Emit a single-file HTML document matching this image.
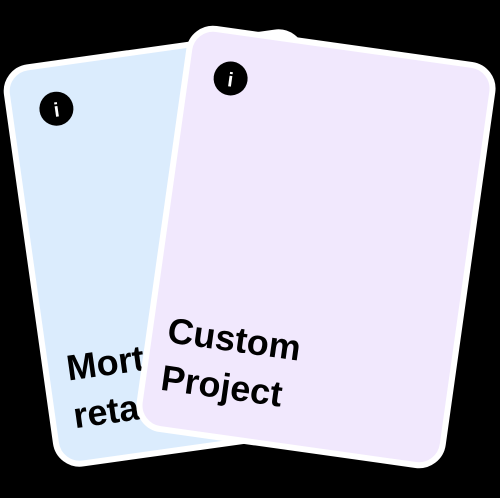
<!DOCTYPE html>
<html><head><meta charset="utf-8"><style>
html,body{margin:0;padding:0;background:#000;width:500px;height:498px;overflow:hidden}
text{font-family:"Liberation Sans",sans-serif;font-weight:bold}
</style></head><body>
<svg width="500" height="498" viewBox="0 0 500 498" xmlns="http://www.w3.org/2000/svg">
  <g transform="translate(179,248) rotate(-8) translate(-152,-203)">
    <rect x="3" y="3" width="298" height="400" rx="24" fill="#dbecfd" stroke="#fff" stroke-width="6"/>
    <circle cx="50" cy="48" r="17" fill="#000"/>
    <text x="50" y="56" font-size="20" fill="#fff" text-anchor="middle" font-family="Liberation Mono">i</text>
    <text x="24" y="319" font-size="36" fill="#000">Mortgage</text>
    <text x="24" y="367" font-size="36" fill="#000">retail</text>
  </g>
  <g transform="translate(316,247) rotate(8) translate(-156,-205)">
    <rect x="3" y="3" width="306" height="404" rx="24" fill="#f1e8fd" stroke="#fff" stroke-width="6"/>
    <circle cx="48" cy="50" r="17" fill="#000"/>
    <text x="48" y="58" font-size="20" fill="#fff" text-anchor="middle" font-family="Liberation Mono">i</text>
    <text x="21" y="320" font-size="36" fill="#000">Custom</text>
    <text x="21" y="368" font-size="36" fill="#000">Project</text>
  </g>
</svg>
</body></html>
